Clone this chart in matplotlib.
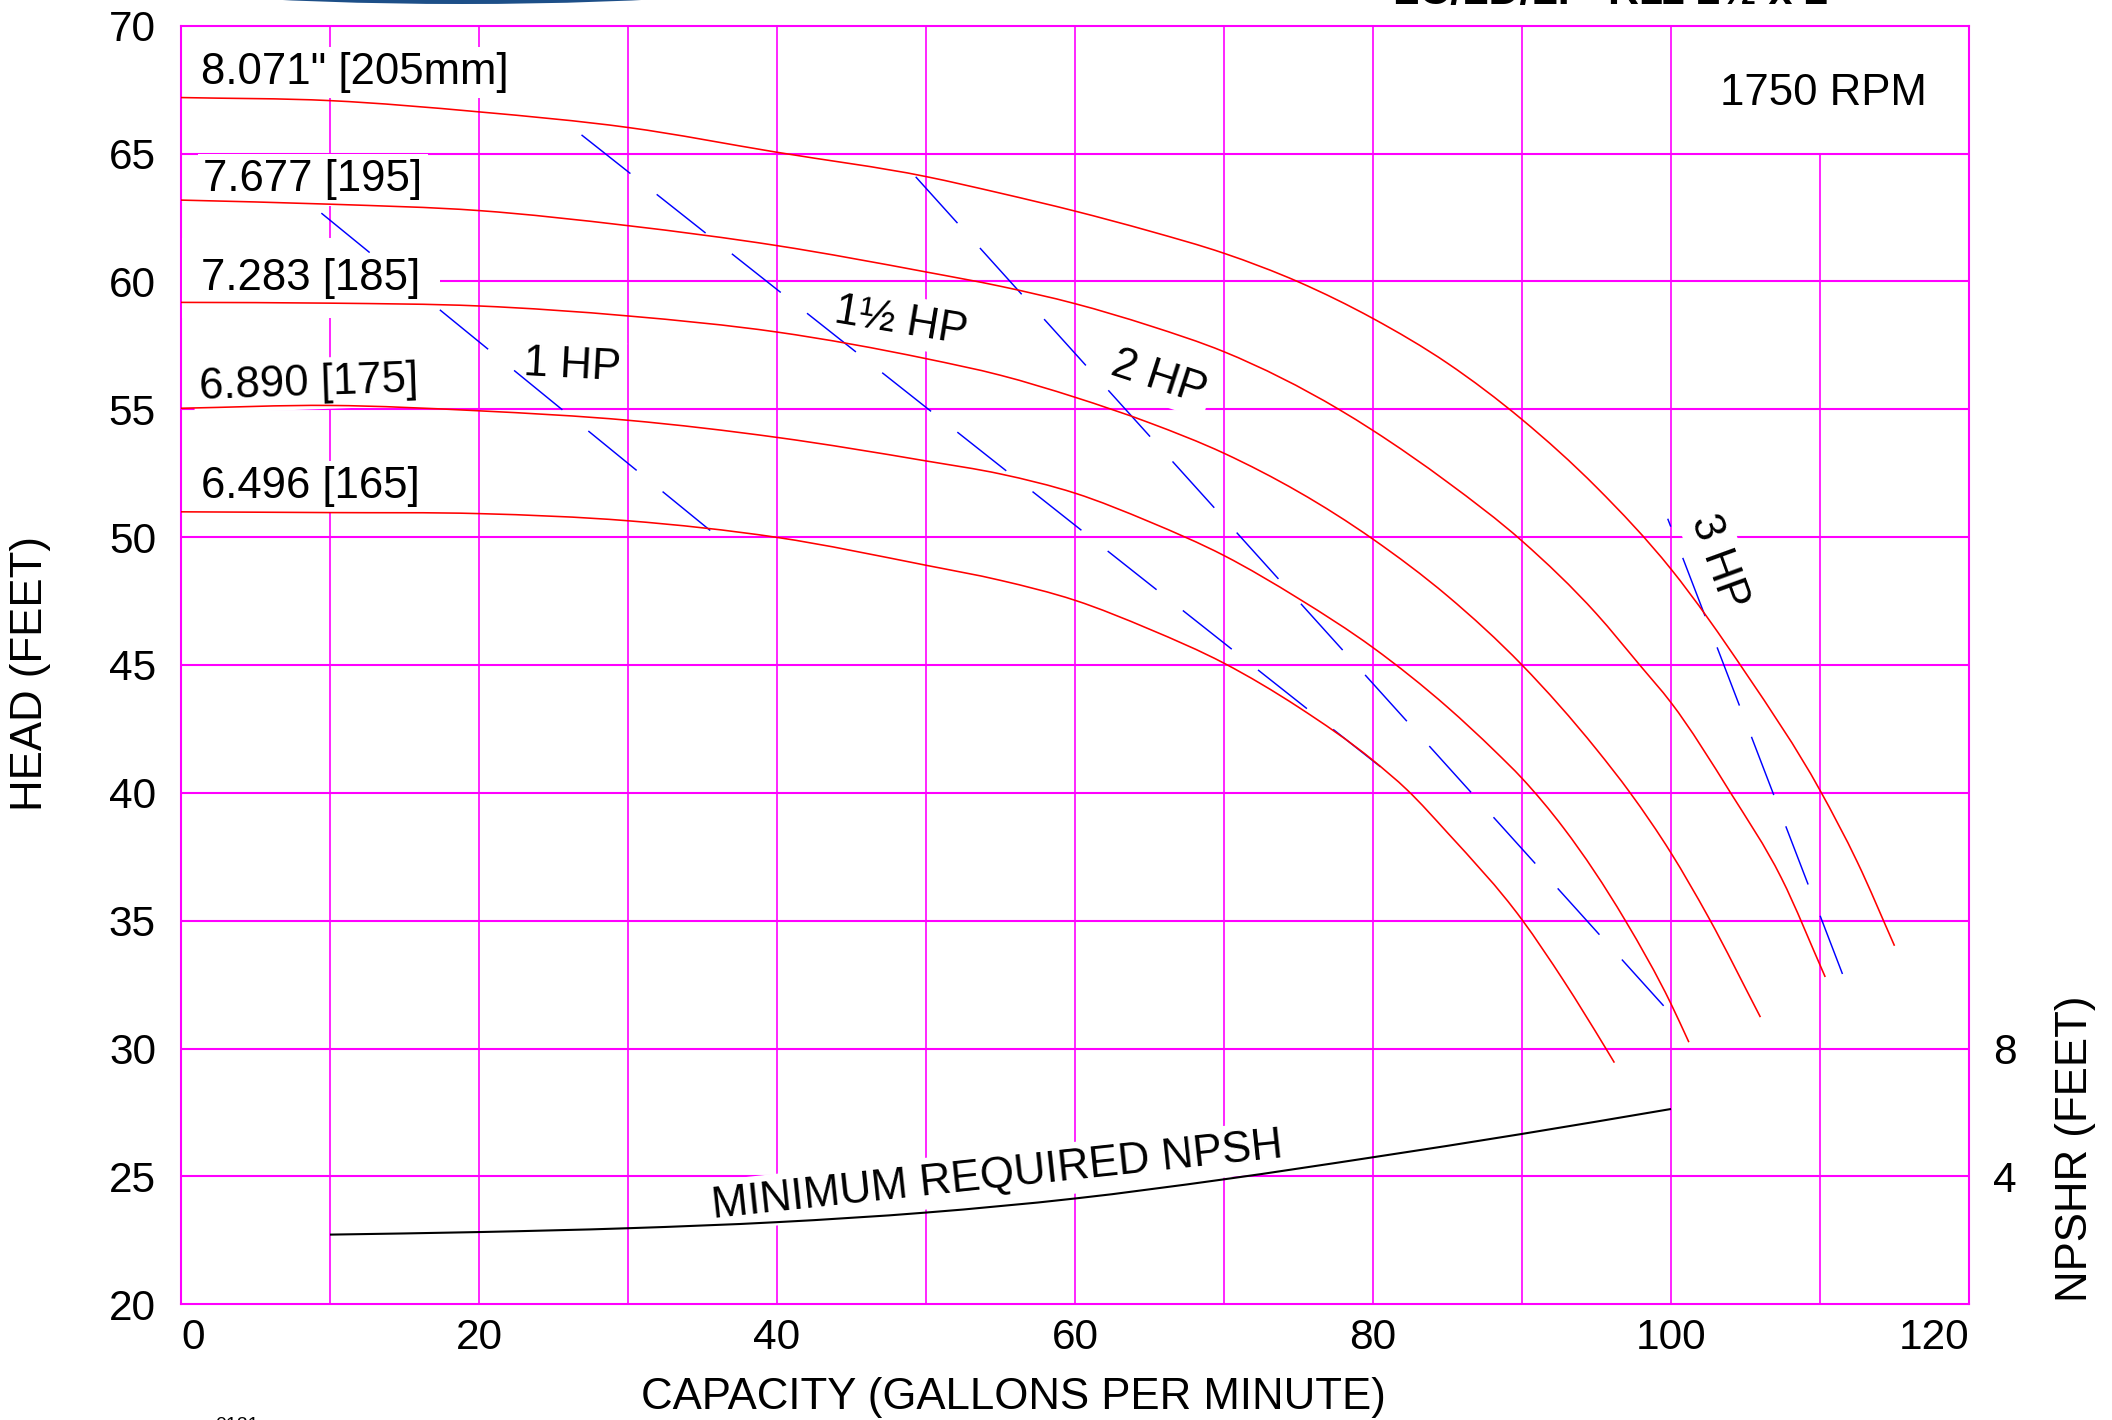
import numpy as np
import matplotlib
matplotlib.use("Agg")
import matplotlib.pyplot as plt
from matplotlib.patches import Ellipse, PathPatch
from matplotlib.path import Path

plt.rcParams['font.family'] = ['Liberation Sans', 'DejaVu Sans']
plt.rcParams['lines.scale_dashes'] = False

# ---------------- data ----------------
x_ticks = [0, 20, 40, 60, 80, 100, 120]
y_ticks = [20, 25, 30, 35, 40, 45, 50, 55, 60, 65, 70]
npsh_ticks = [4, 8]

# impeller diameter curves (capacity gpm, head ft)
gpm_205 = [0, 10, 20, 30, 40, 50, 55, 60, 65, 70, 75, 80, 85, 90, 95, 100, 105, 110, 112.5, 115]
head_205 = [67.19, 67.07, 66.63, 66.02, 65.05, 64.1, 63.45, 62.75, 61.97, 61.1, 59.98, 58.55,
            56.8, 54.6, 51.95, 48.75, 44.7, 40.1, 37.3, 34.02]

gpm_195 = [0, 10, 20, 30, 40, 50, 55, 60, 65, 70, 77.7, 80, 85, 90, 95, 97.9, 100, 104, 107.4, 110.35]
head_195 = [63.18, 63.02, 62.77, 62.18, 61.40, 60.37, 59.81, 59.13, 58.27, 57.25, 55.0, 54.17,
            52.15, 49.85, 47.0, 45.0, 43.53, 40.0, 36.68, 32.8]

gpm_185 = [0, 10, 20, 30, 40, 50, 55, 60, 65, 70, 80, 85, 90, 95, 97.26, 100, 102.5, 106]
head_185 = [59.18, 59.15, 59.04, 58.65, 58.02, 56.98, 56.33, 55.47, 54.47, 53.28, 49.92, 47.7,
            45.0, 41.7, 40.0, 37.65, 35.15, 31.23]

gpm_175 = [0, 10, 20, 30, 40, 50, 55, 60, 65, 70, 75, 80, 85, 88.15, 90, 92.8, 96.9, 100, 101.2]
head_175 = [55.04, 55.15, 54.94, 54.57, 53.9, 52.98, 52.47, 51.72, 50.6, 49.28, 47.6, 45.68,
            43.35, 41.65, 40.57, 38.62, 35.04, 31.75, 30.25]

gpm_165 = [0, 10, 20, 30, 40, 50, 55, 60, 65, 70, 75, 80, 82.3, 85, 90, 92.8, 95.6, 96.2]
head_165 = [50.99, 50.96, 50.92, 50.64, 49.99, 48.9, 48.31, 47.53, 46.4, 45.07, 43.35,
            41.27, 40.11, 38.44, 35.04, 32.65, 30.03, 29.45]

curve_labels = ['8.071" [205mm]', '7.677 [195]', '7.283 [185]', '6.890 [175]', '6.496 [165]']

# horsepower lines (gpm, head ft)
hp_labels = ['1 HP', '1\u00bd HP', '2 HP', '3 HP']
hp1_gpm, hp1_head = [9.42, 35.52], [62.67, 50.26]
hp15_gpm, hp15_head = [26.88, 80.5], [65.73, 41.02]
hp2_gpm, hp2_head = [49.31, 99.57], [64.09, 31.63]
hp3_gpm, hp3_head = [99.78, 111.54], [50.72, 32.87]

# minimum required NPSH (gpm, NPSHR ft)
npsh_gpm = [10, 20, 30, 40, 50, 60, 70, 80, 90, 100]
npsh_ft = [2.18, 2.26, 2.38, 2.57, 2.87, 3.31, 3.91, 4.60, 5.33, 6.11]


def smooth_path(x, y):
    """Smooth Bezier path passing through the read points (rendering only)."""
    x = np.asarray(x, float)
    y = np.asarray(y, float)
    n = len(x)
    h = np.diff(x)
    d = np.diff(y) / h
    m = np.empty(n)
    m[0], m[-1] = d[0], d[-1]
    for i in range(1, n - 1):
        m[i] = (d[i - 1] * h[i] + d[i] * h[i - 1]) / (h[i - 1] + h[i])
    verts = [(x[0], y[0])]
    codes = [Path.MOVETO]
    for i in range(n - 1):
        t = h[i] / 3.0
        verts += [(x[i] + t, y[i] + m[i] * t), (x[i + 1] - t, y[i + 1] - m[i + 1] * t),
                  (x[i + 1], y[i + 1])]
        codes += [Path.CURVE4] * 3
    return Path(verts, codes)


# ---------------- figure ----------------
MAG = '#FF00FF'
W, H = 2112, 1420
fig = plt.figure(figsize=(W / 100, H / 100), dpi=100)
ax = fig.add_axes([181 / W, 1 - 1304.3 / H, (1969 - 181) / W, (1304.3 - 25.7) / H])
ax.set_xlim(0, 120)
ax.set_ylim(20, 70)

# grid
ax.set_yticks(y_ticks)
ax.set_xticks(x_ticks)
ax.hlines(y_ticks[1:-1], 0, 120, color=MAG, lw=1.5, zorder=1)
x_grid = np.arange(10, 120, 10)
tops = np.where(x_grid == 110, 65, 70)
ax.vlines(x_grid, 20, tops, color=MAG, lw=1.2, zorder=1)
for s in ax.spines.values():
    s.set_color(MAG)
    s.set_linewidth(1.5)
    s.set_zorder(1)

ax.tick_params(axis='both', length=0, labelsize=30.5, colors='black')
ax.tick_params(axis='y', pad=18)
ax.tick_params(axis='x', pad=10)
ax.set_xticklabels([str(v) for v in x_ticks])
xl = ax.get_xticklabels()
xl[0].set_ha('left')
xl[-1].set_ha('right')

# secondary NPSHR axis
ax2 = ax.twinx()
ax2.set_ylim(0, 40)
ax2.set_yticks(npsh_ticks)
ax2.tick_params(axis='y', length=0, labelsize=30.5, pad=17.5)
for s in ax2.spines.values():
    s.set_visible(False)
ax2.add_patch(PathPatch(smooth_path(npsh_gpm, npsh_ft), fill=False, ec='black', lw=1.5,
                        zorder=5, capstyle='butt'))

# head curves
for g, h in [(gpm_205, head_205), (gpm_195, head_195), (gpm_185, head_185),
             (gpm_175, head_175), (gpm_165, head_165)]:
    ax.add_patch(PathPatch(smooth_path(g, h), fill=False, ec='#FF0000', lw=1.15, zorder=4,
                           capstyle='butt'))

# horsepower lines (dashed)
dash = (44.9, 24.1)
ax.plot(hp1_gpm, hp1_head, color='#0000FF', lw=1.05,
        ls=(0, (44.9, 65.2) + dash * 4), zorder=3)
ax.plot(hp15_gpm, hp15_head, color='#0000FF', lw=1.05, ls=(0, dash), zorder=3)
ax.plot(hp2_gpm, hp2_head, color='#0000FF', lw=1.05, ls=(0, dash), zorder=3)
ax.plot(hp3_gpm, hp3_head, color='#0000FF', lw=1.05, ls=(38.8, dash), zorder=3)

# labels
box = dict(boxstyle='square,pad=0.12', fc='white', ec='none')
wide_box = dict(boxstyle='square,pad=0.45', fc='white', ec='none')
FS = 31.5
lab_pos = [(1.37, 67.72, 0), (1.5, 63.52, 0), (1.37, 59.68, 0), (1.24, 55.4, 2), (1.37, 51.52, 0)]
lab_box = [box, box, wide_box, box, box]
for txt, (lx, ly, rot), bb in zip(curve_labels, lab_pos, lab_box):
    ax.text(lx, ly, txt, fontsize=FS, ha='left', va='baseline', rotation=rot,
            rotation_mode='anchor', bbox=bb, zorder=2)

ax.text(110.2, 66.88, '1750 RPM', fontsize=FS, ha='center', va='baseline', bbox=box, zorder=2)

hp_pos = [(26.2, 56.25, -3), (48.2, 58.0, -9.5), (65.4, 55.8, -18)]
for txt, (lx, ly, rot) in zip(hp_labels[:3], hp_pos):
    ax.text(lx, ly, txt, fontsize=FS, ha='center', va='baseline', rotation=rot,
            rotation_mode='anchor', bbox=box, zorder=2)
ax.text(103.2, 49.05, hp_labels[3], fontsize=FS, ha='center', va='center', rotation=-70,
        rotation_mode='anchor', bbox=box, zorder=2)

ax.text(54.9, 24.57, 'MINIMUM REQUIRED NPSH', fontsize=FS, ha='center', va='baseline',
        rotation=6.1, rotation_mode='anchor', bbox=box, zorder=2)

# axis titles
ax.text((30.3 - 181) / 1788, 0.4934, 'HEAD (FEET)', transform=ax.transAxes, fontsize=FS,
        rotation=90, ha='center', va='center')
ax.text((1013 - 181) / 1788, (1304.3 - 1397) / 1278.6, 'CAPACITY (GALLONS PER MINUTE)',
        transform=ax.transAxes, fontsize=FS, ha='center', va='center')
ax.text((2075.6 - 181) / 1788, (1304.3 - 1149) / 1278.6, 'NPSHR (FEET)', transform=ax.transAxes,
        fontsize=FS, rotation=90, ha='center', va='center')

# cropped header elements at the top edge and footer code (cut off in the reference too)
fig.text(1611 / W, 1 - 4 / H, 'LC/LD/LF  R11 2\u00bd x 2', fontsize=31, fontweight='bold',
         ha='center', va='baseline')
fig.patches.append(Ellipse((462 / W, 1 + 26 / H), 720 / W, 60 / H, transform=fig.transFigure,
                           fc='#1d4f88', ec='none'))
fig.text(215 / W, 1 - 1416.5 / H, '0121', fontsize=14, ha='left', va='top')

fig.savefig('out.png', dpi=100, facecolor='white')
